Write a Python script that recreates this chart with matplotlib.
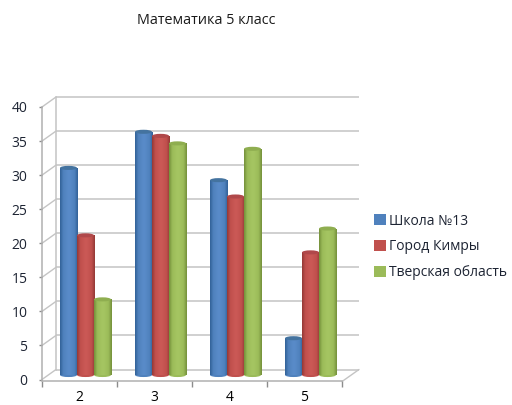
import numpy as np
import matplotlib
matplotlib.use("Agg")
import matplotlib.pyplot as plt
from matplotlib.patches import Ellipse, Patch
from matplotlib.transforms import Affine2D
from matplotlib.colors import LinearSegmentedColormap

plt.rcParams['font.family'] = ['Open Sans', 'DejaVu Sans']

categories = ['2', '3', '4', '5']
school = [30.4, 35.7, 28.6, 5.4]
city = [20.5, 35.1, 26.2, 18.0]
region = [11.1, 34.0, 33.2, 21.5]
series_names = ['Школа №13', 'Город Кимры', 'Тверская область']
title = 'Математика 5 класс'
yticks = [0, 5, 10, 15, 20, 25, 30, 35, 40]

series = [school, city, region]
palette = [('#33639a', '#4f81bd', '#5a8cca'), ('#963a37', '#c0504d', '#cc5a57'), ('#76923c', '#9bbb59', '#a6c663')]
flat = ['#4f81bd', '#c0504d', '#9bbb59']
caps = ['#44739f', '#b0484a', '#8fae50']
GRID = '#c4c4c4'

W, H = 512, 405
fig = plt.figure(figsize=(W / 100, H / 100), dpi=100)
ax = fig.add_axes([42 / W, (H - 379.5) / H, 300 / W, 272.5 / H])
ax.set_facecolor('none')

back = ax.transData + Affine2D().translate(14, 10)
mid = ax.transData + Affine2D().translate(6, 4.5)

for v in yticks:
    ax.plot([0, 4.04], [v, v], transform=back, color=GRID, lw=1.1, clip_on=False, zorder=1, solid_capstyle='butt')
    ax.annotate('', xy=(0, v), xycoords=back, xytext=(0, v), textcoords=ax.transData,
                arrowprops=dict(arrowstyle='-', color=GRID, lw=1.0, shrinkA=0, shrinkB=0), zorder=1)
ax.plot([0, 0], [0, 40], transform=back, color=GRID, lw=1.1, clip_on=False, zorder=1)
ax.annotate('', xy=(4.04, 0), xycoords=back, xytext=(4, -0.3), textcoords=ax.transData,
            arrowprops=dict(arrowstyle='-', color=GRID, lw=1.0, shrinkA=0, shrinkB=0), zorder=1)

w = 0.2267
cap_h = 0.6
z = 3
for j in range(len(categories)):
    for i, vals in enumerate(series):
        x = j + 0.5 + (i - 1) * w
        v = vals[j]
        dark, base, light = palette[i]
        cmap = LinearSegmentedColormap.from_list(
            'c', [(0, dark), (0.18, base), (0.5, light), (0.82, base), (1, dark)])
        grad = np.linspace(0, 1, 32).reshape(1, -1)
        bottom = Ellipse((x, 0), w, cap_h, transform=mid, facecolor=base, edgecolor='none', zorder=z, clip_on=False)
        ax.add_patch(bottom)
        bars = ax.bar(x, v, w, transform=mid, color=base, linewidth=0, zorder=z + 0.1, clip_on=False)
        im = ax.imshow(grad, extent=(x - w / 2, x + w / 2, 0, v), transform=mid, cmap=cmap,
                       aspect='auto', zorder=z + 0.2, interpolation='bilinear')
        im.set_clip_path(bars[0])
        top = Ellipse((x, v), w, cap_h, transform=mid, facecolor=caps[i], edgecolor='none',
                      zorder=z + 0.3, clip_on=False)
        ax.add_patch(top)
        z += 1

ax.set_xlim(0, 4)
ax.set_ylim(0, 40)
ax.set_xticks([0, 1, 2, 3, 4])
ax.set_xticklabels([])
ax.set_xticks([0.5, 1.5, 2.5, 3.5], minor=True)
ax.set_xticklabels(categories, minor=True, fontsize=9.0, color='#1d2433')
ax.set_yticks(yticks)
ax.set_yticklabels([str(t) for t in yticks], fontsize=10.0, color='#1d2433')
ax.tick_params(axis='x', which='major', length=4, width=1, color='#8c8c8c')
ax.tick_params(axis='x', which='minor', length=0, pad=6)
ax.tick_params(axis='y', length=2.5, width=1, color='#8c8c8c', pad=8)
for s in ['top', 'right']:
    ax.spines[s].set_visible(False)
for s in ['left', 'bottom']:
    ax.spines[s].set_color('#b0b0b0')
    ax.spines[s].set_linewidth(1.1)
ax.spines['bottom'].set_position(('outward', 1.4))

fig.text(206 / W, 1 - 20 / H, title, ha='center', va='center', fontsize=10.4, color='#1a1a1a')

handles = [Patch(facecolor=c, edgecolor='none') for c in flat]
fig.legend(handles, series_names, loc='center left', bbox_to_anchor=(364 / W, 1 - 247 / H), frameon=False,
           fontsize=10.0, handlelength=0.85, handleheight=0.85, handletextpad=0.25, labelspacing=0.78,
           labelcolor='#1d2433', borderpad=0.2)

fig.savefig('out.png', dpi=100)
